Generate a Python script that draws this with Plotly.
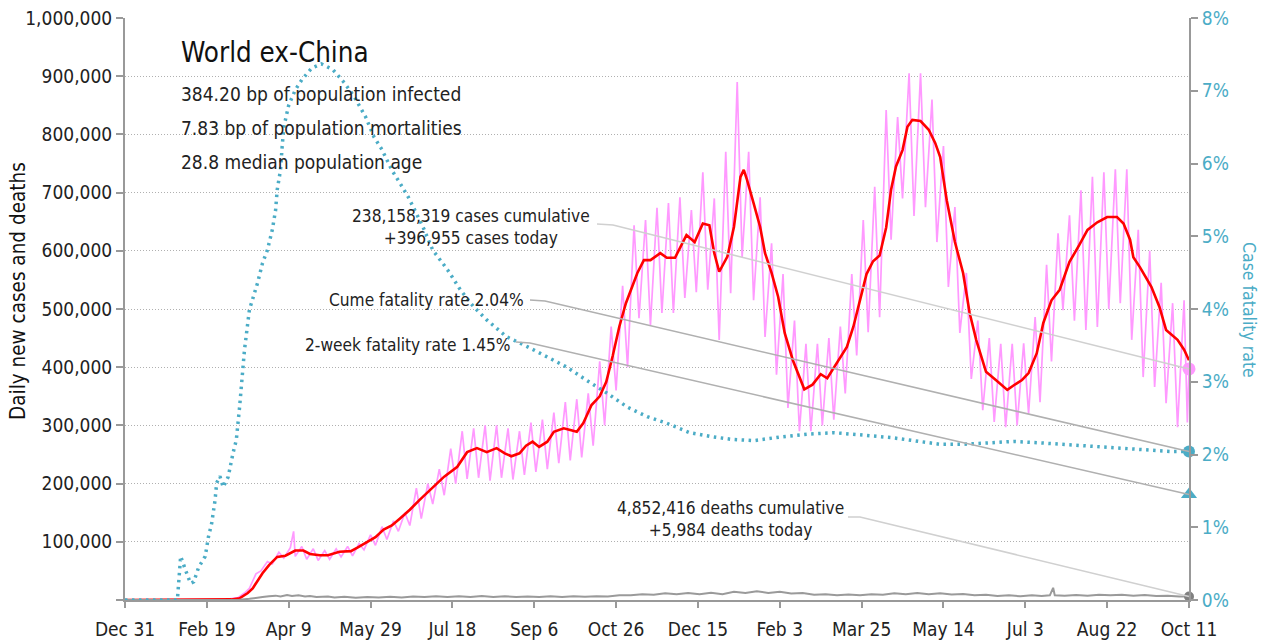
import pandas as pd
import plotly.graph_objects as go

START = pd.Timestamp("2019-12-31")
N_DAYS = 650

tick_labels = ["Dec 31", "Feb 19", "Apr 9", "May 29", "Jul 18", "Sep 6", "Oct 26",
               "Dec 15", "Feb 3", "Mar 25", "May 14", "Jul 3", "Aug 22", "Oct 11"]

# 7-day average of new cases (thousands): (days since Dec 31 2019, value)
avg_cases = [(0, 0), (60, 0.3), (65, 1), (70, 3), (75, 12), (78, 20), (84, 46), (88, 60), (93, 74),
             (98, 76), (104, 85), (109, 85), (113, 79), (119, 77), (124, 77), (131, 83), (138, 84),
             (142, 90), (148, 100), (153, 108), (158, 121), (163, 128), (168, 140), (174, 155),
             (180, 172), (188, 194), (195, 212), (203, 229), (209, 254), (215, 261), (221, 254),
             (227, 261), (232, 252), (236, 247), (241, 252), (245, 265), (249, 272), (253, 263),
             (258, 272), (262, 289), (268, 295), (272, 292), (276, 289), (280, 304), (285, 335),
             (290, 350), (294, 375), (298, 420), (302, 470), (306, 510), (310, 540), (313, 562),
             (317, 584), (321, 584), (327, 596), (331, 588), (336, 588), (340, 610), (343, 627),
             (348, 615), (353, 647), (357, 644), (360, 596), (363, 564), (368, 590), (372, 641),
             (376, 727), (378, 739), (380, 722), (384, 682), (388, 641), (391, 596), (395, 562),
             (399, 521), (403, 459), (408, 412), (412, 383), (415, 362), (420, 370), (425, 388),
             (429, 381), (435, 407), (441, 435), (445, 470), (449, 515), (453, 560), (457, 582),
             (461, 592), (465, 640), (468, 705), (471, 745), (475, 773), (478, 813), (481, 825),
             (486, 823), (491, 808), (495, 785), (498, 761), (502, 687), (507, 615), (512, 562),
             (516, 493), (520, 447), (526, 392), (532, 378), (539, 361), (543, 369), (548, 378),
             (552, 390), (557, 424), (561, 476), (566, 515), (571, 533), (577, 581), (583, 610),
             (588, 636), (594, 649), (600, 658), (606, 658), (610, 647), (614, 619), (616, 589),
             (620, 572), (627, 538), (632, 503), (636, 464), (643, 447), (647, 430), (650, 412)]

# daily new cases (thousands): weekly lows and highs
daily_cases = [(0, 0), (55, 0.5), (62, 1), (66, 3), (69, 4), (73, 12), (76, 20), (80, 45), (83, 50),
               (87, 66), (90, 62), (94, 82), (97, 72), (101, 90), (103, 118), (104, 75), (108, 92),
               (111, 70), (115, 88), (118, 68), (122, 85), (125, 70), (129, 88), (132, 74), (136, 92),
               (139, 76), (143, 97), (146, 86), (150, 112), (153, 94), (157, 126), (160, 104),
               (164, 136), (167, 118), (171, 150), (174, 128), (178, 192), (181, 140), (185, 200),
               (188, 165), (192, 225), (195, 180), (199, 260), (202, 200), (206, 290), (209, 208),
               (213, 295), (216, 210), (220, 300), (223, 205), (227, 300), (230, 210), (234, 295),
               (237, 207), (241, 290), (244, 215), (248, 305), (251, 220), (255, 310), (258, 225),
               (262, 322), (265, 235), (269, 340), (272, 240), (276, 345), (279, 245), (283, 355),
               (286, 265), (290, 410), (293, 300), (297, 470), (300, 360), (304, 540), (307, 400),
               (311, 644), (314, 484), (318, 653), (321, 472), (325, 674), (328, 493), (332, 682),
               (335, 493), (339, 692), (342, 519), (346, 670), (349, 529), (353, 735), (356, 533),
               (360, 690), (363, 447), (367, 770), (370, 527), (374, 890), (377, 589), (381, 770),
               (384, 515), (388, 692), (391, 452), (395, 613), (398, 387), (402, 560), (405, 330),
               (409, 480), (412, 290), (416, 440), (419, 290), (423, 440), (426, 300), (430, 450),
               (433, 310), (437, 470), (440, 355), (444, 560), (447, 420), (451, 653), (454, 460),
               (458, 710), (461, 486), (465, 842), (468, 619), (472, 830), (475, 690), (479, 905),
               (482, 660), (486, 905), (489, 675), (493, 860), (496, 615), (500, 780), (503, 538),
               (507, 675), (510, 459), (514, 562), (517, 380), (521, 480), (524, 326), (528, 450),
               (531, 306), (535, 440), (538, 297), (542, 440), (545, 300), (549, 441), (552, 320),
               (556, 486), (559, 340), (563, 576), (566, 410), (570, 630), (573, 498), (577, 661),
               (580, 480), (584, 704), (587, 464), (591, 727), (594, 469), (598, 735), (601, 500),
               (605, 740), (608, 510), (612, 740), (615, 447), (619, 636), (622, 383), (626, 600),
               (629, 366), (633, 545), (636, 338), (640, 510), (643, 297), (647, 515), (649, 305),
               (650, 396.955)]

# daily deaths (thousands)
daily_deaths = [(0, 0), (60, 0.1), (70, 0.5), (76, 2), (80, 4), (84, 5), (88, 6.5), (92, 7.5), (95, 6),
                (99, 8.5), (102, 7), (106, 8), (110, 6), (113, 7), (117, 5), (124, 6), (128, 4.5),
                (134, 5.5), (141, 4), (148, 5), (155, 4.5), (162, 5.5), (169, 4.5), (176, 6), (183, 5),
                (190, 6.5), (197, 5), (204, 6.5), (211, 5), (218, 7), (225, 5), (232, 6.5), (239, 5),
                (246, 6), (253, 5), (260, 6.5), (267, 5), (274, 6.5), (281, 5.5), (288, 6.5), (295, 6),
                (302, 8), (309, 8), (316, 10), (323, 9), (330, 11.5), (337, 10), (344, 12), (351, 10),
                (358, 12.5), (365, 10), (372, 14), (379, 12), (386, 15), (393, 12), (400, 14), (407, 11),
                (414, 12), (421, 9), (428, 10), (435, 8), (442, 9.5), (449, 8), (456, 10), (463, 9),
                (470, 11.5), (477, 10), (484, 12), (491, 10), (498, 11.5), (505, 9.5), (512, 10.5),
                (519, 8), (526, 9), (533, 7), (540, 8), (547, 6.5), (554, 8), (560, 7), (565, 8),
                (567, 21), (568, 8), (574, 7.5), (581, 8.5), (588, 7.5), (595, 9), (602, 8), (609, 9),
                (616, 7.5), (623, 8.5), (630, 7), (637, 7.5), (644, 6), (648, 6.5), (650, 5.984)]

# cumulative case fatality rate (%)
cfr = [(0, 0), (32, 0), (33, 0.3), (34, 0.6), (37, 0.41), (40, 0.23), (42, 0.25), (45, 0.45),
       (49, 0.6), (51, 0.87), (53, 1.06), (55, 1.37), (56, 1.61), (58, 1.7), (60, 1.55), (63, 1.69),
       (66, 2.02), (68, 2.2), (70, 2.65), (73, 3.44), (76, 3.99), (81, 4.36), (84, 4.63), (87, 4.81),
       (90, 5.09), (92, 5.36), (93, 5.64), (95, 5.91), (96, 6.23), (97, 6.5), (100, 6.8), (104, 7.01),
       (108, 7.15), (114, 7.31), (120, 7.37), (127, 7.29), (134, 7.11), (140, 6.92), (147, 6.64),
       (152, 6.37), (157, 6.19), (163, 5.91), (168, 5.73), (173, 5.54), (177, 5.36), (182, 5.13),
       (188, 4.81), (197, 4.54), (205, 4.26), (213, 4.03), (221, 3.85), (233, 3.62), (246, 3.48),
       (258, 3.34), (270, 3.2), (282, 3.02), (294, 2.85), (307, 2.65), (319, 2.52), (331, 2.43),
       (345, 2.3), (357, 2.25), (370, 2.21), (384, 2.19), (400, 2.24), (417, 2.28), (433, 2.3),
       (449, 2.27), (469, 2.23), (498, 2.14), (512, 2.14), (528, 2.16), (543, 2.18), (559, 2.16),
       (579, 2.13), (600, 2.09), (620, 2.06), (640, 2.04), (650, 2.04)]

two_week_cfr = 1.45  # %

header = "World ex-China"
stats = ["384.20 bp of population infected", "7.83 bp of population mortalities",
         "28.8 median population age"]
cases_note = "238,158,319 cases cumulative<br>+396,955 cases today"
cume_note = "Cume fatality rate 2.04%"
two_week_note = "2-week fatality rate 1.45%"
deaths_note = "4,852,416 deaths cumulative<br>+5,984 deaths today"

FONT = "DejaVu Sans Condensed, Liberation Sans Narrow, sans-serif"
TEAL = "#4bacc6"
PINK = "#ff99ff"


def to_dates(pairs):
    return START + pd.to_timedelta([p[0] for p in pairs], unit="D")


def vals(pairs, scale=1.0):
    return [p[1] * scale for p in pairs]


end_date = START + pd.Timedelta(days=N_DAYS)

fig = go.Figure()
fig.add_trace(go.Scatter(x=to_dates(daily_cases), y=vals(daily_cases, 1000), mode="lines",
                         line=dict(color=PINK, width=1.7), hoverinfo="skip"))
fig.add_trace(go.Scatter(x=to_dates(avg_cases), y=vals(avg_cases, 1000), mode="lines",
                         line=dict(color="#ff0000", width=2.6), hoverinfo="skip"))
fig.add_trace(go.Scatter(x=to_dates(daily_deaths), y=vals(daily_deaths, 1000), mode="lines",
                         line=dict(color="#9a9a9a", width=2), hoverinfo="skip"))
fig.add_trace(go.Scatter(x=[end_date], y=[daily_cases[-1][1] * 1000], mode="markers",
                         marker=dict(color=PINK, size=13), cliponaxis=False))
fig.add_trace(go.Scatter(x=[end_date], y=[daily_deaths[-1][1] * 1000], mode="markers",
                         marker=dict(color="#808080", size=10), cliponaxis=False))
fig.add_trace(go.Scatter(x=to_dates(cfr), y=vals(cfr, 0.01), mode="lines", yaxis="y2",
                         line=dict(color=TEAL, width=3.5, dash="2.5px,4.5px"), hoverinfo="skip"))
fig.add_trace(go.Scatter(x=[end_date], y=[cfr[-1][1] / 100], mode="markers", yaxis="y2",
                         marker=dict(color=TEAL, size=12), cliponaxis=False))
fig.add_trace(go.Scatter(x=[end_date], y=[two_week_cfr / 100], mode="markers", yaxis="y2",
                         marker=dict(color=TEAL, size=14, symbol="triangle-up"), cliponaxis=False))

L, R, T, B = 125, 79, 18, 41
W, H = 1268, 641
PW, PH = W - L - R, H - T - B


def px(x):
    return (x - L) / PW


def py(y):
    return (H - B - y) / PH


ann = []
ann.append(dict(text=header, x=px(179), y=py(52), font=dict(size=27.5, color="#111")))
for i, s in enumerate(stats):
    ann.append(dict(text=s, x=px(179), y=py(94 + 34 * i), font=dict(size=19, color="#222")))
for a in ann:
    a.update(xref="paper", yref="paper", xanchor="left", yanchor="middle", showarrow=False)

notes = [
    dict(text=cases_note, x=px(471), y=py(227), xanchor="center", align="center"),
    dict(text=cume_note, x=px(526), y=py(300), xanchor="right"),
    dict(text=two_week_note, x=px(513), y=py(345), xanchor="right"),
    dict(text=deaths_note, x=px(730), y=py(519), xanchor="center", align="center"),
]
for n in notes:
    n.update(xref="paper", yref="paper", yanchor="middle", showarrow=False,
             font=dict(size=17.2, color="#222"))
ann += notes
ann.append(dict(text="Daily new cases and deaths", x=px(18), y=py(291), xref="paper", yref="paper",
                xanchor="center", yanchor="middle",
                textangle=-90, showarrow=False, font=dict(size=20.5, color="#111")))
ann.append(dict(text="Case fatality rate", x=px(1249), y=py(310), xref="paper", yref="paper",
                xanchor="center", yanchor="middle",
                textangle=90, showarrow=False, font=dict(size=17.5, color=TEAL)))

# leader lines: from note to the latest value marker
leaders = [
    ((597, 224), (613, 225), daily_cases[-1][1] * 1000 / 1e6, "#d0d0d0"),
    ((530, 300), (545, 301), cfr[-1][1] / 8, "#b0b0b0"),
    ((516, 342), (530, 343), two_week_cfr / 8, "#b0b0b0"),
    ((848, 517), (860, 517), daily_deaths[-1][1] * 1000 / 1e6, "#d0d0d0"),
]
shapes = []
for (a, b, yend, col) in leaders:
    path = f"M {px(a[0])},{py(a[1])} L {px(b[0])},{py(b[1])} L 1,{yend}"
    shapes.append(dict(type="path", path=path, xref="paper", yref="paper",
                       line=dict(color=col, width=1.6)))

tickvals = [START + pd.Timedelta(days=50 * i) for i in range(len(tick_labels))]

fig.update_layout(
    width=W, height=H, margin=dict(l=L, r=R, t=T, b=B, autoexpand=False),
    paper_bgcolor="white", plot_bgcolor="white", showlegend=False,
    font=dict(family=FONT, color="#222"),
    annotations=ann, shapes=shapes,
    xaxis=dict(range=[START, end_date], tickvals=tickvals, ticktext=tick_labels,
               ticks="outside", ticklen=6, tickwidth=2, tickcolor="#999", showline=True,
               linecolor="#999", linewidth=2, showgrid=False, zeroline=False, automargin=False,
               ticklabelstandoff=5, tickfont=dict(size=19, color="#222")),
    yaxis=dict(range=[0, 1e6], tickvals=[100000 * i for i in range(0, 11)],
               ticktext=[""] + [f"{100000 * i:,}" for i in range(1, 11)],
               ticks="outside", ticklen=7, tickwidth=2, tickcolor="#999", showline=True,
               linecolor="#999", linewidth=2, showgrid=True, gridcolor="#b0b0b0",
               griddash="1px,2px", gridwidth=1, zeroline=False, automargin=False,
               tickfont=dict(size=19, color="#222")),
    yaxis2=dict(range=[0, 0.08], overlaying="y", side="right",
                tickvals=[0.01 * i for i in range(9)], tickformat=".0%",
                ticks="outside", ticklen=7, tickwidth=2, tickcolor="#999", showline=True,
                linecolor="#999", linewidth=2, showgrid=False, zeroline=False, automargin=False,
                tickfont=dict(size=19, color=TEAL)),
)

fig.write_html("out.html", config={"displayModeBar": False},
               post_script="document.body.style.margin='0';document.body.style.overflow='hidden';")
